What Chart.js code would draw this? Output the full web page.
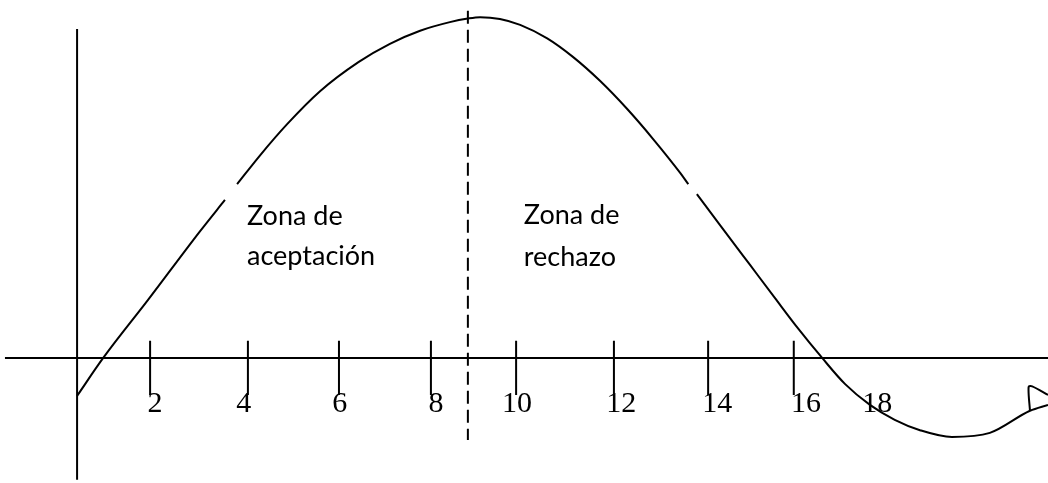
<!DOCTYPE html>
<html>
<head>
<meta charset="utf-8">
<script src="https://cdn.jsdelivr.net/npm/chart.js@4"></script>
<style>
  html, body { margin: 0; padding: 0; background: #ffffff; }
  #wrap { width: 1048px; height: 483px; position: relative; }
</style>
</head>
<body>
<div id="wrap"><canvas id="c"></canvas></div>
<script>
// ---- data (graph units) ----
const curveX = [0.21, 0.79, 1.78, 2.94, 3.49, 3.62, 3.76, 4.27, 4.87, 5.60, 6.46, 7.15, 7.82, 8.48, 8.88, 9.15,
                9.59, 10.04, 10.64, 11.21, 11.81, 12.41, 12.99, 13.59, 13.77, 13.86, 13.96, 14.47, 15.14, 15.69,
                16.20, 16.74, 17.25, 17.80, 18.35, 18.91, 19.62, 20.46, 21.35, 21.75];
const curveY = [-0.84, 0.00, 1.28, 2.81, 3.50, null, 3.85, 4.49, 5.18, 5.91, 6.56, 6.96, 7.25, 7.44, 7.52, 7.55,
                7.51, 7.38, 7.08, 6.67, 6.14, 5.52, 4.85, 4.10, 3.85, null, 3.63, 2.95, 2.06, 1.33,
                0.66, 0.00, -0.58, -1.04, -1.37, -1.60, -1.75, -1.66, -1.17, -1.04];
const loopX = [21.35, 21.32, 21.40, 21.75];
const loopY = [-1.17, -0.64, -0.63, -0.82];

const axisXRange = [-1.39, 21.75];      // horizontal axis extent (at y = 0)
const axisYPos = 0.21;                  // vertical axis position
const axisYRange = [7.29, -2.70];       // vertical axis extent
const dividerX = 8.88;                  // dashed divider position
const dividerRange = [7.69, -1.82];

const tickPositions = [1.83, 4.00, 6.02, 8.06, 9.95, 12.12, 14.21, 16.11];
const tickRange = [0.38, -0.82];

const tickLabels = ['2', '4', '6', '8', '10', '12', '14', '16', '18'];
const tickLabelX = [1.94, 3.91, 6.04, 8.17, 9.97, 12.28, 14.41, 16.38, 17.96];
const tickLabelY = -1.20;

const zoneLines = [['Zona de', 'aceptación'], ['Zona de', 'rechazo']];
const zoneX = [3.98, 10.12];
const zoneY = [[2.95, 2.06], [2.97, 2.04]];

// ---- build datasets ----
const curveData = curveX.map((x, i) => ({ x: x, y: curveY[i] }));
const loopData = loopX.map((x, i) => ({ x: x, y: loopY[i] }));
const tickData = [];
tickPositions.forEach(t => {
  tickData.push({ x: t, y: tickRange[0] }, { x: t, y: tickRange[1] }, { x: t, y: null });
});

const base = { borderColor: '#000', borderWidth: 2, pointRadius: 0, fill: false, spanGaps: false };

const textPlugin = {
  id: 'texts',
  afterDatasetsDraw(chart) {
    const ctx = chart.ctx, xs = chart.scales.x, ys = chart.scales.y;
    ctx.save();
    ctx.fillStyle = '#000';
    ctx.textBaseline = 'alphabetic';
    ctx.font = '30px "Liberation Serif", "Times New Roman", serif';
    ctx.textAlign = 'center';
    tickLabels.forEach((l, i) => {
      ctx.fillText(l, xs.getPixelForValue(tickLabelX[i]), ys.getPixelForValue(tickLabelY));
    });
    ctx.font = '27px Lato, "Open Sans", sans-serif';
    ctx.textAlign = 'left';
    zoneLines.forEach((lines, i) => {
      lines.forEach((l, j) => {
        ctx.fillText(l, xs.getPixelForValue(zoneX[i]), ys.getPixelForValue(zoneY[i][j]));
      });
    });
    ctx.restore();
  }
};

new Chart(document.getElementById('c'), {
  type: 'line',
  data: {
    datasets: [
      Object.assign({ data: curveData, cubicInterpolationMode: 'monotone' }, base),
      Object.assign({ data: loopData, tension: 0.3 }, base),
      Object.assign({ data: [{ x: axisXRange[0], y: 0 }, { x: axisXRange[1], y: 0 }], tension: 0 }, base),
      Object.assign({ data: [{ x: axisYPos, y: axisYRange[0] }, { x: axisYPos, y: axisYRange[1] }], tension: 0 }, base),
      Object.assign({ data: [{ x: dividerX, y: dividerRange[0] }, { x: dividerX, y: dividerRange[1] }], tension: 0, borderDash: [13, 6] }, base),
      Object.assign({ data: tickData, tension: 0 }, base)
    ]
  },
  options: {
    responsive: true,
    maintainAspectRatio: false,
    animation: false,
    layout: { padding: 0 },
    plugins: { legend: { display: false }, tooltip: { enabled: false } },
    scales: {
      x: { type: 'linear', min: -1.5, max: 21.75, display: false },
      y: { type: 'linear', min: -2.77, max: 7.93, display: false }
    }
  },
  plugins: [textPlugin]
});
</script>
</body>
</html>
